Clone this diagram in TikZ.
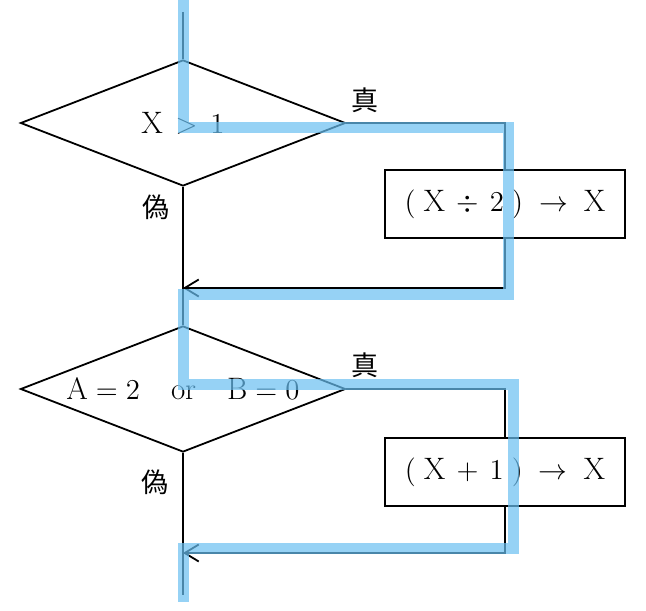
\documentclass[tikz,border=0pt]{standalone}
\usepackage{fontspec}
\newfontfamily\jp{Noto Sans CJK JP}
\usetikzlibrary{
    shapes.geometric,
    arrows.meta
}
\definecolor{tracecolor}{RGB}{105,191,241}
\tikzset{
    flow/.style={line width=0.9pt},
    decision/.style={draw, diamond, aspect=2.58, line width=0.9pt, minimum width=162.5pt, minimum height=63pt, inner sep=0pt, font=\fontsize{15.5}{18}\selectfont},
    process/.style={draw, rectangle, line width=0.9pt, minimum width=120pt, minimum height=34pt, font=\fontsize{15.5}{18}\selectfont},
    answer/.style={font=\jp\fontsize{13.5}{16}\selectfont},
    trace/.style={line width=5.5pt, color=tracecolor, opacity=0.7, line join=miter}
}

\begin{document}
\begin{tikzpicture}[x=0.5pt, y=-0.5pt]
                        \useasboundingbox (0,0) rectangle (646,610);
                        \node[decision] (cond1) at (183, 123) {$\mathrm{X} \,>\, 1$};
                        \node[process] (half) at (505, 204) {$(\;\mathrm{X}\,\div\,2\;)\;\to\;\mathrm{X}$};
                        \node[decision] (cond2) at (183, 389) {$\mathrm{A} = 2$\quad or\quad $\mathrm{B} = 0$};
                        \node[process] (inc) at (505, 472) {$(\;\mathrm{X}\,+\,1\;)\;\to\;\mathrm{X}$};
                        \node[answer] (yes1) at (365, 100) {真};
                        \node[answer] (no1) at (156, 207) {偽};
                        \node[answer] (yes2) at (365, 365) {真};
                        \node[answer] (no2) at (155, 482) {偽};
                        \coordinate (start) at (183, 12);
                        \coordinate (join1) at (183, 288);
                        \coordinate (join2) at (183, 553);
                        \coordinate (end) at (183, 595);
                        \draw[flow]
                        (start) -- (cond1.north)
                        (cond1.east) -| (half.north)
                        (cond1.south) -- (cond2.north)
                        (cond2.east) -| (inc.north)
                        (cond2.south) -- (end);
                        \draw[flow, -{Straight Barb[length=7pt, width=8.5pt]}] (half.south) |- (join1);
                        \draw[flow, -{Straight Barb[length=7pt, width=8.5pt]}] (inc.south) |- (join2);
                        % highlighted route
                        \coordinate (t0) at (183, 0);
                        \coordinate (t1) at (183, 127);
                        \coordinate (t2) at (508, 127);
                        \coordinate (t3) at (508, 294);
                        \coordinate (t4) at (183, 294);
                        \coordinate (t5) at (183, 384);
                        \coordinate (t6) at (513, 384);
                        \coordinate (t7) at (513, 548);
                        \coordinate (t8) at (183, 548);
                        \coordinate (t9) at (183, 602);
                        \draw[trace] (t0) -- (t1) -- (t2) -- (t3) -- (t4) -- (t5) -- (t6) -- (t7) -- (t8) -- (t9);
                    \end{tikzpicture}
\end{document}
